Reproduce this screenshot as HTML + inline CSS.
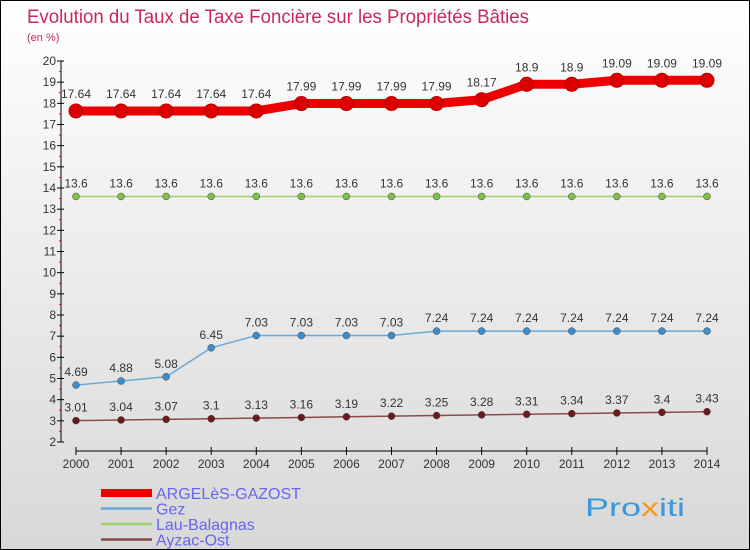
<!DOCTYPE html>
<html><head><meta charset="utf-8"><style>
body{margin:0}
#c{width:748px;height:548px;border:1px solid #000;background:linear-gradient(#fff,#d8d8d8);position:relative;overflow:hidden;font-family:"Liberation Sans",sans-serif}
</style></head><body>
<div id="c">
<svg id="s" width="748" height="548">
<text x="26" y="22" font-size="19" fill="#c8285a" textLength="502" lengthAdjust="spacingAndGlyphs">Evolution du Taux de Taxe Foncière sur les Propriétés Bâties</text>
<text x="26" y="40" font-size="11" fill="#c8285a">(en %)</text>
<g id="axes"></g><g id="series"></g><g id="legend"></g>
<text x="584" y="515" font-size="25" fill="#3a9ad9" textLength="100" lengthAdjust="spacingAndGlyphs">Pro<tspan fill="#f39a1a">x</tspan>iti</text>
</svg></div>
<script>
const years=[2000,2001,2002,2003,2004,2005,2006,2007,2008,2009,2010,2011,2012,2013,2014];
const argeles=[17.64,17.64,17.64,17.64,17.64,17.99,17.99,17.99,17.99,18.17,18.9,18.9,19.09,19.09,19.09];
const gez=[4.69,4.88,5.08,6.45,7.03,7.03,7.03,7.03,7.24,7.24,7.24,7.24,7.24,7.24,7.24];
const lau=[13.6,13.6,13.6,13.6,13.6,13.6,13.6,13.6,13.6,13.6,13.6,13.6,13.6,13.6,13.6];
const ayzac=[3.01,3.04,3.07,3.1,3.13,3.16,3.19,3.22,3.25,3.28,3.31,3.34,3.37,3.4,3.43];
const yTicks=[2,3,4,5,6,7,8,9,10,11,12,13,14,15,16,17,18,19,20];
const seriesNames=["ARGELèS-GAZOST","Gez","Lau-Balagnas","Ayzac-Ost"];
const NS="http://www.w3.org/2000/svg";
const X=i=>75+i*(706-75)/(years.length-1);
const Y=v=>441-(v-2)*(441-60)/18;
function mk(p,t,a){const e=document.createElementNS(NS,t);for(const k in a)e.setAttribute(k,a[k]);p.appendChild(e);return e;}
const ax=document.getElementById('axes');
const yl=mk(ax,'line',{x1:60,y1:60,x2:60,y2:441,stroke:'#000'});

yTicks.forEach(v=>{
 mk(ax,'line',{x1:56,x2:63,y1:Y(v),y2:Y(v),stroke:'#000'});
 if(v<20)mk(ax,'line',{x1:58,x2:60,y1:Y(v+0.5),y2:Y(v+0.5),stroke:'#f00'});
 const t=mk(ax,'text',{x:55,y:Y(v)+4,'font-size':12,'text-anchor':'end',fill:'#333'});
 t.textContent=v;
});
const xl=mk(ax,'line',{x1:75,y1:450,x2:706,y2:450,stroke:'#000'});

years.forEach((y,i)=>{
 mk(ax,'line',{x1:X(i),x2:X(i),y1:446,y2:454,stroke:'#000'});
 const t=mk(ax,'text',{x:X(i),y:467,'font-size':12,'text-anchor':'middle',fill:'#333'});
 t.textContent=y;
});
const sg=document.getElementById('series');
const defs=[[argeles,'#e00',9,7,'#d00'],[gez,'#6aa8d8',1.5,3.5,'#3d8ccc'],[lau,'#9ad46a',1.5,3.5,'#7cc04a'],[ayzac,'#8a4a4a',1.5,3.5,'#6a1a1a']];
defs.forEach((d,si)=>{
 const g=mk(sg,'g',{});
 
 const pl=mk(g,'polyline',{points:d[0].map((v,i)=>X(i)+','+Y(v)).join(' '),fill:'none',stroke:d[1],'stroke-width':d[2]});
 
 d[0].forEach((v,i)=>{
  const c=mk(g,'circle',{cx:X(i),cy:Y(v),r:d[3],fill:d[4],stroke:si==0?'#b00':'#444','stroke-width':si==0?1:0.5});
  
  const t=mk(g,'text',{x:X(i),y:Y(v)-(si==0?13:9),'font-size':12,'text-anchor':'middle',fill:'#333'});
  t.textContent=v;
 });
});
const lg=document.getElementById('legend');
const lc=['#e00','#6aa8d8','#9ad46a','#8a4a4a'],lw=[8,2.5,2.5,2.5];
seriesNames.forEach((n,i)=>{
 const yy=492+i*15.5;
 const g=mk(lg,'g',{});
 
 mk(g,'line',{x1:100,x2:151,y1:yy,y2:yy,stroke:lc[i],'stroke-width':lw[i]});
 const t=mk(g,'text',{x:155,y:yy+6,'font-size':16,fill:'#6666ee'});t.textContent=n;
});
</script></body></html>
